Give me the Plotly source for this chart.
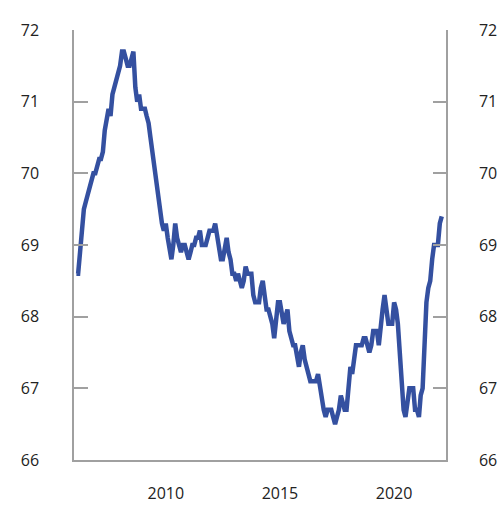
import pandas as pd
import plotly.graph_objects as go

# sysselsettingsandel, månedlig fra feb. 2006
andel = [
    68.6, 68.6, 68.9, 69.2, 69.5, 69.6, 69.7, 69.8, 69.9, 70.0,
    70.0, 70.1, 70.2, 70.2, 70.3, 70.6, 70.8, 70.9, 70.8, 71.1,
    71.2, 71.3, 71.4, 71.5, 71.7, 71.7, 71.6, 71.5, 71.5, 71.6,
    71.7, 71.2, 71.0, 71.1, 70.9, 70.9, 70.9, 70.8, 70.7, 70.5,
    70.3, 70.1, 69.9, 69.7, 69.4, 69.3, 69.2, 69.3, 69.1, 68.9,
    68.8, 69.0, 69.3, 69.1, 69.0, 68.9, 69.0, 69.0, 68.9, 68.8,
    68.9, 69.0, 69.0, 69.1, 69.1, 69.2, 69.0, 69.0, 69.0, 69.1,
    69.2, 69.2, 69.2, 69.3, 69.1, 68.9, 68.8, 68.8, 69.0, 69.1,
    68.9, 68.8, 68.6, 68.6, 68.5, 68.6, 68.5, 68.4, 68.5, 68.7,
    68.6, 68.6, 68.6, 68.3, 68.2, 68.2, 68.2, 68.4, 68.5, 68.3,
    68.1, 68.1, 68.0, 67.9, 67.7, 68.0, 68.2, 68.2, 68.0, 67.9,
    68.0, 68.1, 67.8, 67.7, 67.6, 67.6, 67.4, 67.3, 67.5, 67.6,
    67.4, 67.3, 67.2, 67.1, 67.1, 67.1, 67.1, 67.2, 67.0, 66.8,
    66.7, 66.6, 66.7, 66.7, 66.7, 66.6, 66.5, 66.6, 66.7, 66.9,
    66.8, 66.7, 66.7, 67.0, 67.3, 67.2, 67.4, 67.6, 67.6, 67.6,
    67.6, 67.7, 67.7, 67.6, 67.5, 67.6, 67.8, 67.8, 67.8, 67.6,
    67.9, 68.1, 68.3, 68.1, 67.9, 67.9, 67.9, 68.2, 68.1, 67.9,
    67.5, 67.0, 66.7, 66.6, 66.8, 67.0, 67.0, 67.0, 66.7, 66.7,
    66.6, 66.9, 67.0, 67.6, 68.2, 68.4, 68.5, 68.8, 69.0, 69.0,
    69.0, 69.3, 69.4,
]
maaned = pd.date_range("2006-02-01", periods=len(andel), freq="MS")

aar_ticks = ["2010-01-01", "2015-01-01", "2020-01-01"]
aar_tekst = ["2010", "2015", "2020"]
y_ticks = [66, 67, 68, 69, 70, 71, 72]

farge = "#3450a0"
akse = "#a0a0a0"

fig = go.Figure()
fig.add_trace(go.Scatter(x=maaned, y=andel, mode="lines",
                         line=dict(color=farge, width=4.5), showlegend=False))
# usynlig kopi for høyre akse
fig.add_trace(go.Scatter(x=maaned, y=andel, mode="lines", yaxis="y2",
                         line=dict(color=farge, width=0), opacity=0,
                         hoverinfo="skip", showlegend=False))

fig.update_layout(
    width=500, height=510,
    margin=dict(l=74, r=54, t=30, b=50),
    plot_bgcolor="white", paper_bgcolor="white",
    font=dict(family="Open Sans", size=16, color="#222222"),
    xaxis=dict(range=["2005-12-25", "2022-04-10"], tickvals=aar_ticks, ticktext=aar_tekst,
               showgrid=False, zeroline=False, showline=True, linecolor=akse, linewidth=1.5,
               ticks="", ticklabelstandoff=18, automargin=False),
    yaxis=dict(range=[66, 72], tickvals=y_ticks, showgrid=False, zeroline=False,
               showline=True, linecolor=akse, linewidth=1.5, ticks="inside", ticklen=14,
               tickcolor=akse, tickwidth=1.5, ticklabelstandoff=30, automargin=False),
    yaxis2=dict(range=[66, 72], tickvals=y_ticks, overlaying="y", side="right",
                showgrid=False, zeroline=False, showline=True, linecolor=akse, linewidth=1.5,
                ticks="inside", ticklen=13, tickcolor=akse, tickwidth=1.5,
                ticklabelstandoff=28, automargin=False, ticklabeloverflow="allow"),
)

# fjern standardmargen i nettleseren
fig.write_html("out.html", config={"displayModeBar": False},
               post_script="document.body.style.margin='0';")
